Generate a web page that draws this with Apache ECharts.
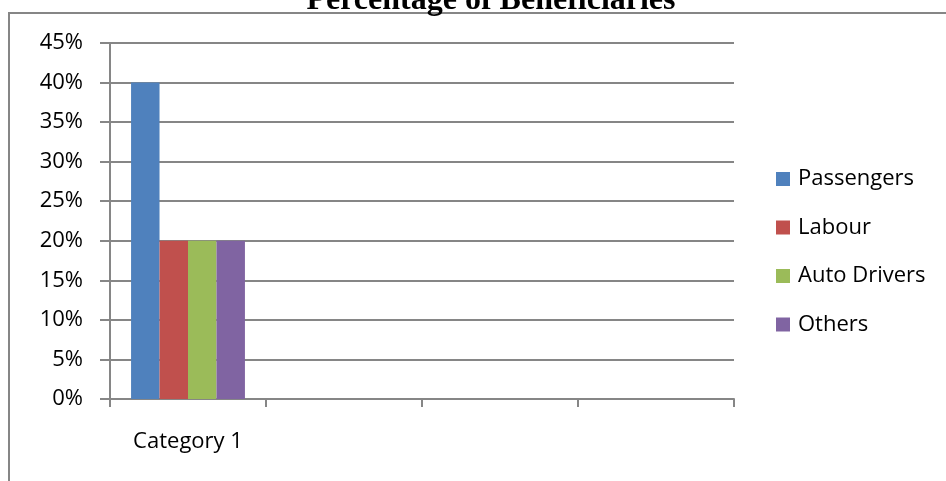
<!DOCTYPE html>
<html>
<head>
<meta charset="utf-8">
<script src="https://cdn.jsdelivr.net/npm/echarts@6/dist/echarts.min.js"></script>
<style>html,body{margin:0;padding:0;background:#fff}#c{width:946px;height:481px}</style>
</head>
<body>
<div id="c"></div>
<script>
const categories = ['Category 1', '', '', ''];
const seriesNames = ['Passengers', 'Labour', 'Auto Drivers', 'Others'];
const passengers = [40, null, null, null];
const labour = [20, null, null, null];
const autoDrivers = [20, null, null, null];
const others = [20, null, null, null];
const colors = ['#4F81BD', '#C0504D', '#9BBB59', '#8064A2'];

const chart = echarts.init(document.getElementById('c'));
const font = 'Open Sans';
const valuesList = [passengers, labour, autoDrivers, others];
chart.setOption({
  animation: false,
  title: {
    text: 'Percentage of Beneficiaries',
    left: 486, top: -20, textAlign: 'center',
    textStyle: { fontFamily: 'Liberation Serif', fontWeight: 'bold', fontSize: 32, color: '#000' }
  },
  graphic: [{
    type: 'rect', shape: { x: 9, y: 13, width: 1000, height: 600 },
    style: { fill: 'none', stroke: '#868686', lineWidth: 2 }, z: -1
  }],
  legend: {
    orient: 'vertical', left: 776, top: 168, padding: 0,
    itemWidth: 14, itemHeight: 14, itemGap: 26.5,
    icon: 'rect',
    textStyle: { fontFamily: font, fontSize: 22, color: '#000', padding: [0, 0, 0, 3] },
    data: seriesNames
  },
  grid: { left: 110, top: 43, right: 212, bottom: 82 },
  xAxis: {
    type: 'category', data: categories,
    axisLine: { lineStyle: { color: '#868686', width: 2 } },
    axisTick: { show: true, length: 8, lineStyle: { color: '#868686', width: 2 } },
    axisLabel: { fontFamily: font, fontSize: 22, color: '#000', margin: 32 },
    splitLine: { show: false }
  },
  yAxis: {
    type: 'value', min: 0, max: 45, interval: 5,
    axisLine: { show: true, lineStyle: { color: '#868686', width: 2 } },
    axisTick: { show: true, length: 10, lineStyle: { color: '#868686', width: 2 } },
    axisLabel: { fontFamily: font, fontSize: 22, color: '#000', margin: 27, formatter: v => v + '%' },
    splitLine: { lineStyle: { color: '#868686', width: 2 } }
  },
  series: seriesNames.map((n, i) => ({
    name: n, type: 'bar', data: valuesList[i],
    itemStyle: { color: colors[i] },
    barGap: '0%', barCategoryGap: '27%'
  }))
});
</script>
</body>
</html>
